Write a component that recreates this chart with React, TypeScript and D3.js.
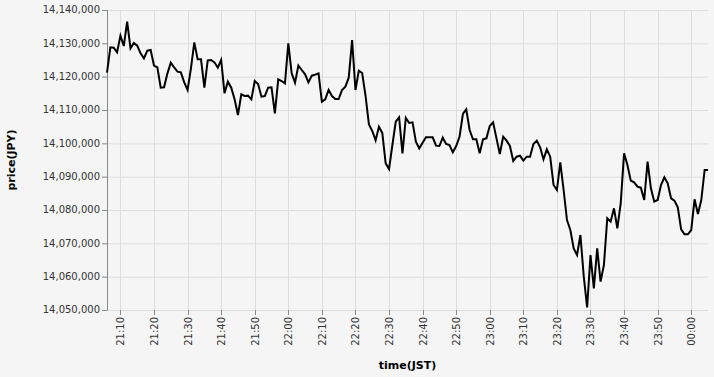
import React from "react";
import * as d3 from "d3";

// Price per minute, starting 21:06 JST, ending 00:05 JST
const startTime = new Date(2024, 0, 1, 21, 6);
const prices: number[] = [
  14121200, 14128800, 14128700, 14127300, 14132300, 14129200, 14136500, 14128500, 14130100, 14129300,
  14127000, 14125500, 14127800, 14128000, 14123300, 14122800, 14116700, 14116800, 14121000, 14124200,
  14122800, 14121500, 14121300, 14118300, 14116000, 14122500, 14130300, 14125200, 14125200, 14116700,
  14124900, 14125000, 14124300, 14122700, 14125000, 14115000, 14118500, 14116700, 14113200, 14108500,
  14114700, 14114200, 14114300, 14113200, 14118700, 14117800, 14114000, 14114200, 14116700, 14116800,
  14109000, 14119200, 14118700, 14118000,
  14130000, 14121000, 14118200, 14123300, 14122000, 14120700, 14118300, 14120300, 14120600, 14121000,
  14112500, 14113200, 14116000, 14114200, 14113300, 14113300, 14116000, 14117000, 14119700, 14131000,
  14116000, 14121800, 14121100, 14114300, 14105700, 14103700, 14100900, 14105000, 14103100, 14094000,
  14092300, 14099500, 14106500, 14107800, 14097000, 14107600, 14106100, 14106300, 14100500, 14098500,
  14100200, 14101800, 14101800, 14101800, 14099300, 14099200, 14101700, 14099800, 14099500, 14097300,
  14099200, 14102000, 14108800, 14110200, 14104000, 14101200, 14101200, 14097000, 14101200, 14101500,
  14105200, 14106300, 14101500, 14096800, 14102000, 14100800, 14099200, 14094700, 14096000, 14096300,
  14094800, 14096000, 14096000, 14099800, 14100800, 14098800, 14095200, 14098200, 14096000, 14087500,
  14086000, 14094300, 14086000, 14077000, 14074000, 14068500, 14066500, 14072500, 14060000, 14050800,
  14066500, 14056500, 14068500, 14058500, 14063500, 14077500, 14076500, 14080500, 14074500, 14082000,
  14097000, 14093500, 14088800, 14088300, 14087000, 14086700, 14083000, 14094500, 14086500, 14082500,
  14083000, 14087500, 14089800, 14088000, 14083500, 14082800, 14080800, 14074200, 14072700, 14072700,
  14074000, 14083200, 14078800, 14083000, 14092000, 14092000,
];
const yTicks: number[] = [14050000, 14060000, 14070000, 14080000, 14090000, 14100000, 14110000, 14120000, 14130000, 14140000];
const xTickStart = new Date(2024, 0, 1, 21, 10);
const xTickEnd = new Date(2024, 0, 2, 0, 0);
const xTitle = "time(JST)";
const yTitle = "price(JPY)";

const W = 714;
const H = 377;
const left = 107;
const right = 708;
const top = 10;
const bottom = 310;

export default function App() {
  const data = prices.map((v, i) => ({ t: d3.timeMinute.offset(startTime, i), v }));
  const x = d3
    .scaleTime()
    .domain([data[0].t, data[data.length - 1].t])
    .range([left, right]);
  const y = d3.scaleLinear().domain([14050000, 14140000]).range([bottom, top]);
  const xTicks = d3.timeMinute.every(10)!.range(xTickStart, d3.timeMinute.offset(xTickEnd, 1));
  const fmtY = d3.format(",");
  const fmtX = d3.timeFormat("%H:%M");
  const line = d3
    .line<{ t: Date; v: number }>()
    .x((d) => x(d.t))
    .y((d) => y(d.v));
  const font = "DejaVu Sans, sans-serif";

  return (
    <svg
      width={W}
      height={H}
      style={{ position: "absolute", left: 0, top: 0, display: "block" }}
      fontFamily={font}
    >
      <rect x={0} y={0} width={W} height={H} fill="#f5f5f5" />
      <g>
        {yTicks.map((t) => (
          <line key={"gy" + t} x1={left} x2={right} y1={y(t) + 0.5} y2={y(t) + 0.5} stroke="#dddddd" strokeWidth={1} />
        ))}
        {xTicks.map((t) => (
          <line key={"gx" + t.getTime()} x1={Math.round(x(t)) + 0.5} x2={Math.round(x(t)) + 0.5} y1={top} y2={bottom} stroke="#dddddd" strokeWidth={1} />
        ))}
      </g>
      <g>
        {yTicks.map((t) => (
          <g key={"ty" + t}>
            <line x1={left - 5} x2={left} y1={y(t) + 0.5} y2={y(t) + 0.5} stroke="#888888" />
            <text x={left - 7} y={y(t)} dy="0.32em" textAnchor="end" fontSize={10} fill="#333333">
              {fmtY(t)}
            </text>
          </g>
        ))}
        <line x1={left + 0.5} x2={left + 0.5} y1={top} y2={bottom + 0.5} stroke="#888888" />
      </g>
      <g>
        {xTicks.map((t) => {
          const px = Math.round(x(t)) + 0.5;
          return (
            <g key={"tx" + t.getTime()}>
              <line x1={px} x2={px} y1={bottom} y2={bottom + 5} stroke="#888888" />
              <text
                transform={`translate(${px},${bottom + 7}) rotate(-90)`}
                dy="0.32em"
                textAnchor="end"
                fontSize={10}
                fill="#333333"
              >
                {fmtX(t)}
              </text>
            </g>
          );
        })}
      </g>
      <path d={line(data) || ""} fill="none" stroke="#000000" strokeWidth={2} strokeLinejoin="miter" />
      <text x={(left + right) / 2} y={369} textAnchor="middle" fontSize={11} fontWeight="bold" fill="#000">
        {xTitle}
      </text>
      <text
        transform={`translate(15,${(top + bottom) / 2}) rotate(-90)`}
        textAnchor="middle"
        fontSize={11}
        fontWeight="bold"
        fill="#000"
      >
        {yTitle}
      </text>
    </svg>
  );
}
